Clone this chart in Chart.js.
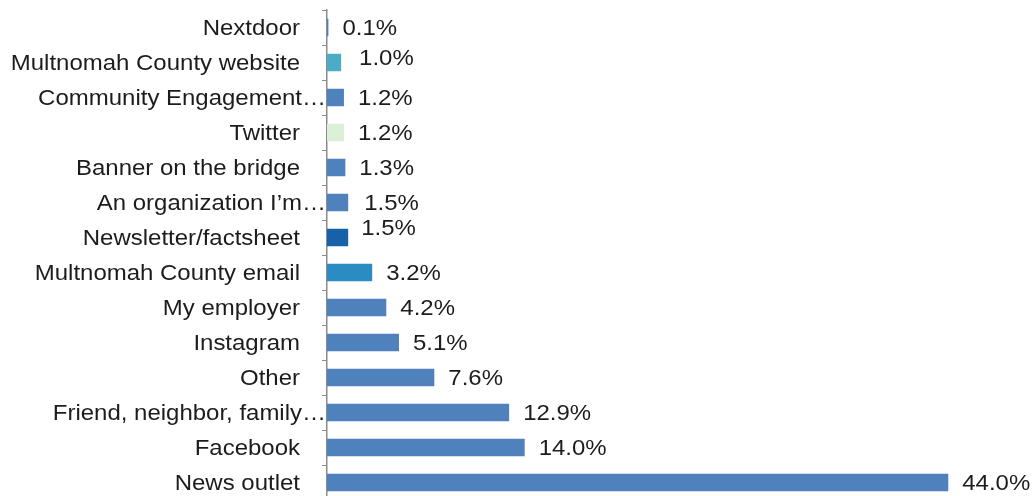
<!DOCTYPE html>
<html>
<head>
<meta charset="utf-8">
<script src="https://cdn.jsdelivr.net/npm/chart.js@4/dist/chart.umd.min.js"></script>
<style>
  html, body { margin: 0; padding: 0; background: #ffffff; overflow: hidden; }
  #wrap { position: relative; width: 1036px; height: 500px; }
</style>
</head>
<body>
<div id="wrap"><canvas id="chart"></canvas></div>
<script>
// How people heard about the project (share of responses)
const categories = [
  'Nextdoor',
  'Multnomah County website',
  'Community Engagement\u2026',
  'Twitter',
  'Banner on the bridge',
  'An organization I\u2019m\u2026',
  'Newsletter/factsheet',
  'Multnomah County email',
  'My employer',
  'Instagram',
  'Other',
  'Friend, neighbor, family\u2026',
  'Facebook',
  'News outlet'
];
const shares = [0.1, 1.0, 1.2, 1.2, 1.3, 1.5, 1.5, 3.2, 4.2, 5.1, 7.6, 12.9, 14.0, 44.0];

const barBlue = '#4f81bd';
const barColors = categories.map(c => {
  if (c === 'Multnomah County website') return '#4bacc6';
  if (c === 'Twitter') return '#dcf0d8';
  if (c === 'Newsletter/factsheet') return '#1761aa';
  if (c === 'Multnomah County email') return '#2b8bc3';
  return barBlue;
});

// small hand adjustments for a few value labels that sit off-centre
const labelNudge = { 1: { dx: 4, dy: -5 }, 5: { dx: 2, dy: 0 }, 6: { dx: -1, dy: -10 } };

const FONT = '22px "Liberation Sans", Arial, sans-serif';
const TEXT = '#1c1c1c';
const STRETCH = 1.09; // text is set slightly wide

function wideText(ctx, text, x, y, align) {
  ctx.save();
  ctx.translate(x, y);
  ctx.scale(STRETCH, 1);
  ctx.textAlign = align;
  ctx.fillText(text, 0, 0);
  ctx.restore();
}

const labelPlugin = {
  id: 'labels',
  afterDatasetsDraw(chart) {
    const ctx = chart.ctx;
    const y = chart.scales.y;
    ctx.save();
    ctx.font = FONT;
    ctx.fillStyle = TEXT;
    ctx.textBaseline = 'middle';

    // category names, right aligned beside the axis;
    // truncated names run on up to the axis line
    categories.forEach((c, i) => {
      const py = y.getPixelForTick(i) + 1;
      const px = c.endsWith('\u2026') ? chart.chartArea.left - 1 : chart.chartArea.left - 27;
      wideText(ctx, c, px, py, 'right');
    });

    // value labels to the right of each bar
    const meta = chart.getDatasetMeta(0);
    meta.data.forEach((bar, i) => {
      const n = labelNudge[i] || { dx: 0, dy: 0 };
      wideText(ctx, shares[i].toFixed(1) + '%', bar.x + 14 + n.dx, bar.y + 1 + n.dy, 'left');
    });
    ctx.restore();
  }
};

new Chart(document.getElementById('chart'), {
  type: 'bar',
  data: {
    labels: categories,
    datasets: [{
      data: shares,
      backgroundColor: barColors,
      borderWidth: 0,
      barPercentage: 0.5,
      categoryPercentage: 1.0
    }]
  },
  options: {
    indexAxis: 'y',
    responsive: true,
    maintainAspectRatio: false,
    animation: false,
    layout: { padding: { top: 10, right: 3, bottom: 0, left: 0 } },
    plugins: {
      legend: { display: false },
      tooltip: { enabled: false }
    },
    scales: {
      x: {
        display: false,
        min: 0,
        max: 50
      },
      y: {
        offset: true,
        grid: {
          offset: true,
          drawOnChartArea: false,
          drawTicks: true,
          tickLength: 5,
          color: '#8c8c8c',
          lineWidth: 1
        },
        border: { display: true, color: '#8c8c8c', width: 1.5 },
        ticks: { display: false },
        afterFit(scale) { scale.width = 327; }
      }
    }
  },
  plugins: [labelPlugin]
});
</script>
</body>
</html>
